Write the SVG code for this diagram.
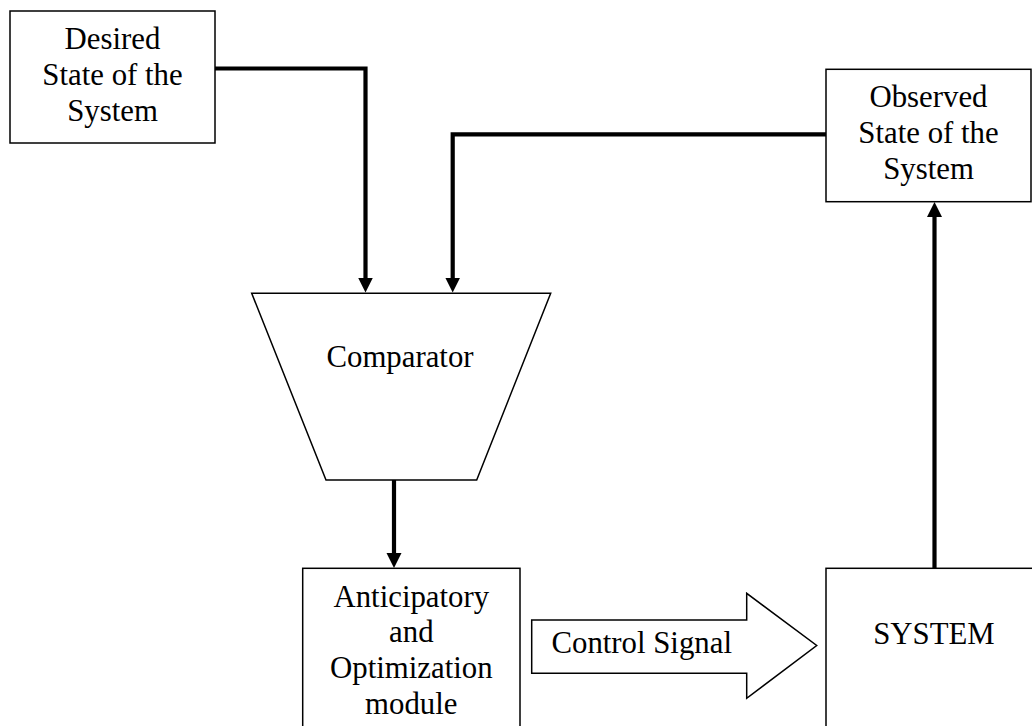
<svg xmlns="http://www.w3.org/2000/svg" width="1032" height="726" viewBox="0 0 1032 726">
  <style>
    .box { fill: #ffffff; stroke: #000000; stroke-width: 1.5; }
    .label { font-family: "Liberation Serif", "Times New Roman", serif; font-size: 30.8px; fill: #000000; text-anchor: middle; }
    .wire { fill: none; stroke: #000000; stroke-width: 4.2; }
  </style>
  <defs>
    <marker id="arrowhead" markerUnits="userSpaceOnUse" markerWidth="17" markerHeight="16" refX="2" refY="7.5" orient="auto">
      <path d="M0,0 L15,7.5 L0,15 z" fill="#000000"/>
    </marker>
  </defs>
  <rect width="1032" height="726" fill="#ffffff"/>

  <!-- connectors -->
  <g id="connectors">
    <path class="wire" d="M215,68.5 H365.5 V279.5" marker-end="url(#arrowhead)"/>
    <path class="wire" d="M826,134.3 H452.7 V279.5" marker-end="url(#arrowhead)"/>
    <path class="wire" d="M394,480 V555" marker-end="url(#arrowhead)"/>
    <path class="wire" d="M934.5,568.3 V215" marker-end="url(#arrowhead)"/>
  </g>

  <g id="desired-state">
    <rect class="box" x="10" y="11" width="205" height="132"/>
    <text class="label" x="112.5" y="48.7">Desired</text>
    <text class="label" x="112.5" y="85">State of the</text>
    <text class="label" x="112.5" y="121.3">System</text>
  </g>

  <g id="observed-state">
    <rect class="box" x="826" y="69.3" width="205" height="132.4"/>
    <text class="label" x="928.5" y="106.7">Observed</text>
    <text class="label" x="928.5" y="143">State of the</text>
    <text class="label" x="928.5" y="179.3">System</text>
  </g>

  <g id="comparator">
    <polygon class="box" points="251.7,293.3 550.7,293.3 476.7,480 326,480"/>
    <text class="label" x="400" y="367.3">Comparator</text>
  </g>

  <g id="anticipatory-module">
    <rect class="box" x="302.7" y="568.3" width="217.3" height="170"/>
    <text class="label" x="411.3" y="606.7">Anticipatory</text>
    <text class="label" x="411.3" y="642">and</text>
    <text class="label" x="411.3" y="678">Optimization</text>
    <text class="label" x="411.3" y="713.5">module</text>
  </g>

  <g id="control-signal">
    <polygon class="box" points="531.7,620 746.7,620 746.7,593.3 816.7,645.5 746.7,698.3 746.7,673.3 531.7,673.3"/>
    <text class="label" x="641.7" y="653.3">Control Signal</text>
  </g>

  <g id="system">
    <rect class="box" x="826" y="568.3" width="220" height="170"/>
    <text class="label" x="934" y="644">SYSTEM</text>
  </g>
</svg>
